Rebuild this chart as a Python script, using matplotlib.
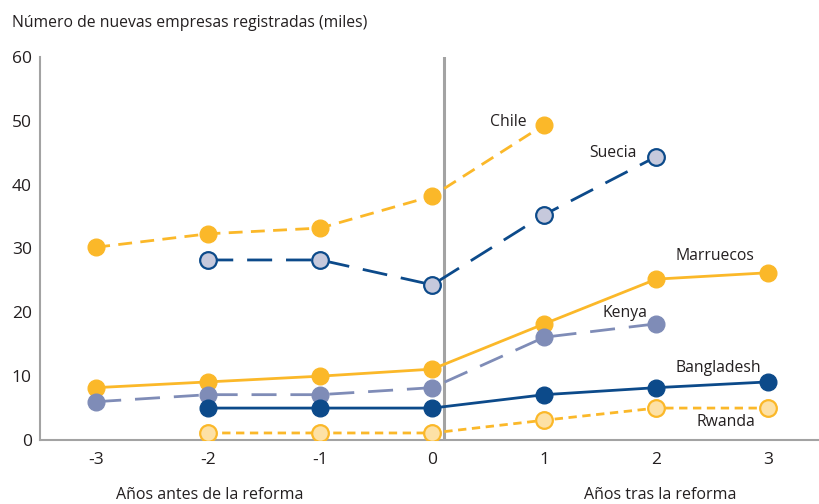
import matplotlib.pyplot as plt

plt.rcParams['font.family'] = ['Open Sans', 'DejaVu Sans']

years = [-3, -2, -1, 0, 1, 2, 3]

chile = [30.2, 32.3, 33.2, 38.2, 49.4, None, None]
suecia = [None, 28.2, 28.2, 24.3, 35.3, 44.4, None]
marruecos = [8.2, 9.1, 10.0, 11.1, 18.2, 25.2, 26.2]
kenya = [6.0, 7.1, 7.1, 8.2, 16.1, 18.2, None]
bangladesh = [None, 5.0, 5.0, 5.0, 7.1, 8.2, 9.1]
rwanda = [None, 1.1, 1.1, 1.1, 3.1, 5.0, 5.0]

yellow = '#fbb829'
navy = '#0c4a8a'
slate = '#7f8cb7'


def pts(vals):
    xs = [x for x, v in zip(years, vals) if v is not None]
    ys = [v for v in vals if v is not None]
    return xs, ys


fig = plt.figure(figsize=(8.2, 5.04), dpi=100)
ax = fig.add_axes([0.049, 0.127, 0.951, 0.76])

ms = 12
# Chile - short dashes, yellow
x, y = pts(chile)
ax.plot(x, y, color=yellow, lw=2, dashes=(5, 3), marker='o', ms=ms,
        mfc=yellow, mec=yellow, zorder=3)
# Suecia - long dashes, navy, light fill
x, y = pts(suecia)
ax.plot(x, y, color=navy, lw=2, dashes=(9, 5), marker='o', ms=ms,
        mfc='#c6c9dc', mec=navy, mew=1.6, zorder=3)
# Marruecos - solid yellow
x, y = pts(marruecos)
ax.plot(x, y, color=yellow, lw=2, marker='o', ms=ms, mfc=yellow, mec=yellow, zorder=3)
# Kenya - long dashes, slate
x, y = pts(kenya)
ax.plot(x, y, color=slate, lw=2, dashes=(9, 5), marker='o', ms=ms,
        mfc=slate, mec=slate, zorder=3)
# Bangladesh - solid navy
x, y = pts(bangladesh)
ax.plot(x, y, color=navy, lw=2, marker='o', ms=ms, mfc=navy, mec=navy, zorder=3)
# Rwanda - short dashes, yellow, light fill
x, y = pts(rwanda)
ax.plot(x, y, color=yellow, lw=2, dashes=(3, 2), marker='o', ms=ms,
        mfc='#fde1a6', mec=yellow, mew=1.6, zorder=3)

# reform line
ax.plot([0.1, 0.1], [0, 60], color='#a3a3a3', lw=2.2, zorder=2)

lab = dict(fontsize=11.3, color='#231f20', ha='center', va='center')
ax.text(0.68, 49.8, 'Chile', **lab)
ax.text(1.61, 45.0, 'Suecia', **lab)
ax.text(2.52, 28.8, 'Marruecos', **lab)
ax.text(1.72, 19.9, 'Kenya', **lab)
ax.text(2.55, 11.3, 'Bangladesh', **lab)
ax.text(2.62, 2.8, 'Rwanda', **lab)

ax.set_xlim(-3.5, 3.46)
ax.set_ylim(0, 60)
ax.set_xticks(years)
ax.set_xticklabels(['-3', '-2', '-1', '0', '1', '2', '3'])
ax.set_yticks([0, 10, 20, 30, 40, 50, 60])
ax.tick_params(length=0, labelsize=12.5, colors='#231f20')
ax.tick_params(axis='x', pad=9)
ax.tick_params(axis='y', pad=6)
for s in ['top', 'right']:
    ax.spines[s].set_visible(False)
for s in ['left', 'bottom']:
    ax.spines[s].set_color('#a3a3a3')
    ax.spines[s].set_linewidth(1.5)

fig.text(0.015, 0.955, 'Número de nuevas empresas registradas (miles)',
         fontsize=11.3, color='#231f20', va='center')
fig.text(0.256, 0.018, 'Años antes de la reforma', fontsize=11.5,
         color='#231f20', ha='center', va='center')
fig.text(0.805, 0.018, 'Años tras la reforma', fontsize=11.5,
         color='#231f20', ha='center', va='center')

fig.savefig('out.png', dpi=100)
